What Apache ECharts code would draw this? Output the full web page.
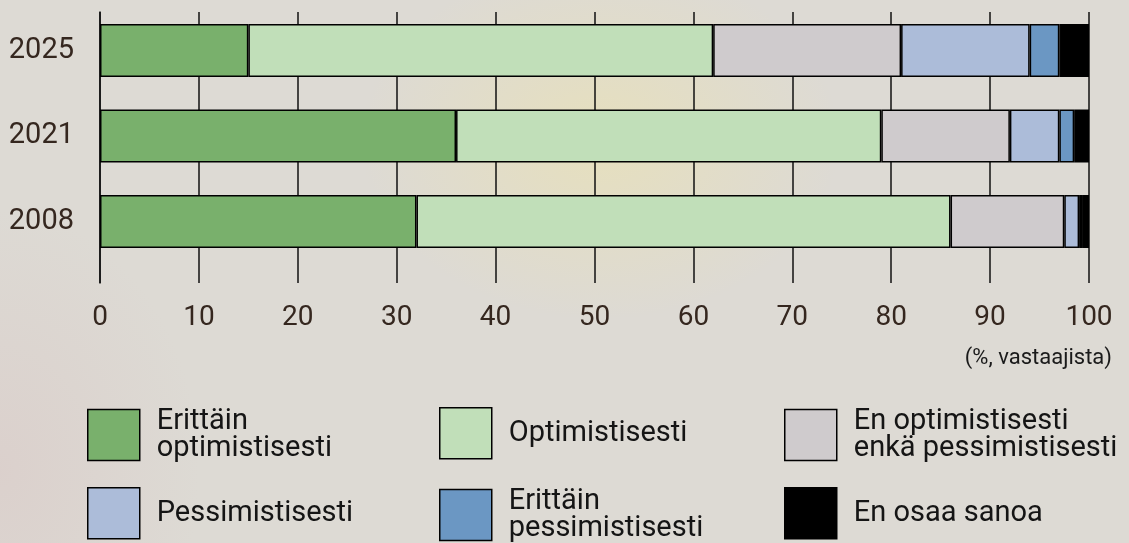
<!DOCTYPE html>
<html>
<head>
<meta charset="utf-8">
<script src="https://cdn.jsdelivr.net/npm/echarts@6/dist/echarts.min.js"></script>
<style>
  html, body { margin: 0; padding: 0; }
  body {
    width: 1129px; height: 543px; overflow: hidden;
    background-color: #dddad4;
    background-image:
      radial-gradient(ellipse 240px 180px at 600px 140px, rgba(238, 228, 170, 0.55), rgba(238, 228, 170, 0) 100%),
      radial-gradient(ellipse 200px 260px at 0px 470px, rgba(215, 190, 190, 0.35), rgba(215, 190, 190, 0) 100%);
  }
  #chart { width: 1129px; height: 543px; }
</style>
</head>
<body>
<div id="chart"></div>
<script>
// vuodet (ylhäältä alas)
const years = ["2025", "2021", "2008"];
const seriesNames = [
  "Erittäin optimistisesti",
  "Optimistisesti",
  "En optimistisesti enkä pessimistisesti",
  "Pessimistisesti",
  "Erittäin pessimistisesti",
  "En osaa sanoa"
];
// osuudet % vastaajista, järjestys kuten years
const veryOptimistic = [15, 36, 32];
const optimistic = [47, 43, 54];
const neutral = [19, 13, 11.5];
const pessimistic = [13, 5, 1.5];
const veryPessimistic = [3, 1.5, 0.3];
const dontKnow = [3, 1.5, 0.7];
const xTicks = [0, 10, 20, 30, 40, 50, 60, 70, 80, 90, 100];

const values = [veryOptimistic, optimistic, neutral, pessimistic, veryPessimistic, dontKnow];
const colors = ["#79b06c", "#c1dfb9", "#cfcbcd", "#acbcd9", "#6b97c3", "#000000"];
const legendText = [
  "Erittäin\noptimistisesti",
  "Optimistisesti",
  "En optimistisesti\nenkä pessimistisesti",
  "Pessimistisesti",
  "Erittäin\npessimistisesti",
  "En osaa sanoa"
];
// legendan paikat
const legendPos = [[87, 407], [439, 407], [784, 407], [87, 487], [439, 487], [784, 487]];

const chart = echarts.init(document.getElementById("chart"));

const series = seriesNames.map((name, i) => ({
  name: name,
  type: "bar",
  stack: "total",
  xAxisIndex: 0,
  yAxisIndex: 0,
  barWidth: 53,
  data: values[i],
  itemStyle: { color: colors[i], borderColor: "#000", borderWidth: 1.5 },
  z: 3
}));

const legends = seriesNames.map((name, i) => ({
  data: [name],
  left: legendPos[i][0],
  top: legendPos[i][1],
  padding: 0,
  itemWidth: 52,
  itemHeight: 51,
  icon: "rect",
  selectedMode: false,
  formatter: () => legendText[i],
  itemStyle: { borderColor: "#000", borderWidth: 1.5 },
  textStyle: {
    fontFamily: "Roboto",
    fontSize: 29,
    lineHeight: 27,
    color: "#151515",
    padding: [0, 0, 0, 12]
  }
}));

chart.setOption({
  animation: false,
  legend: legends,
  grid: [
    { left: 100, right: 40, top: 7.75, bottom: 278.75 },
    { left: 100, right: 40, top: 12, bottom: 260 }
  ],
  xAxis: [
    { gridIndex: 0, type: "value", min: 0, max: 100, show: false },
    {
      gridIndex: 1, type: "value", min: 0, max: 100, interval: 10,
      axisLine: { show: false },
      axisTick: { show: false },
      splitLine: { show: true, lineStyle: { color: "#111", width: 1.5 } },
      axisLabel: {
        margin: 21,
        fontFamily: "Roboto",
        fontSize: 28,
        color: "#35271f",
        formatter: v => (xTicks.indexOf(v) >= 0 ? String(v) : "")
      },
      name: "(%, vastaajista)",
      nameLocation: "end",
      nameGap: 0,
      nameTextStyle: {
        fontFamily: "Roboto",
        fontSize: 22,
        color: "#1a1a1a",
        align: "right",
        verticalAlign: "top",
        padding: [64, -23, 0, 0]
      }
    }
  ],
  yAxis: [
    {
      gridIndex: 0, type: "category", data: years, inverse: true,
      axisLine: { show: false },
      axisTick: { show: false },
      axisLabel: { margin: 26, fontFamily: "Roboto", fontSize: 29, color: "#35271f" }
    },
    {
      gridIndex: 1, type: "value", min: 0, max: 1,
      axisLine: { show: true, lineStyle: { color: "#111", width: 1.5 } },
      axisTick: { show: false },
      axisLabel: { show: false },
      splitLine: { show: false }
    }
  ],
  series: series
});
</script>
</body>
</html>
